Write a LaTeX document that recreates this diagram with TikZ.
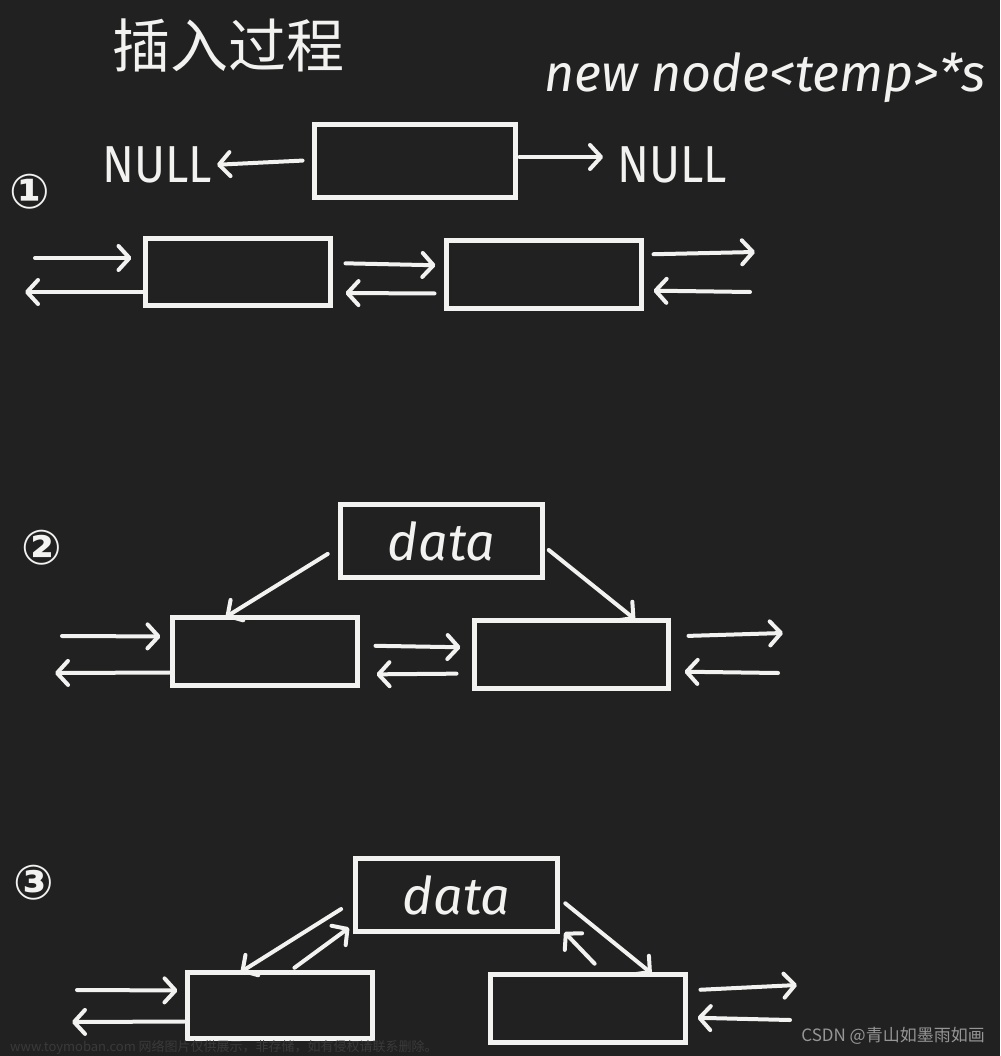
\documentclass[tikz,border=0pt]{standalone}
\usepackage{fontspec}
\usepackage{graphicx}
\usetikzlibrary{arrows.meta}
\setmainfont{Fira Sans}
\newfontfamily\cjk{Noto Sans CJK SC}
\newfontfamily\sym{DejaVu Sans}
\definecolor{bg}{RGB}{33,33,33}
\definecolor{chalk}{RGB}{242,242,240}
\begin{document}
\begin{tikzpicture}[x=1pt,y=-1pt,
  cell/.style={draw=chalk,line width=5pt,minimum width=#1,inner sep=0pt,outer sep=0pt},
  arr/.style={draw=chalk,line width=4pt,line cap=round,-{Straight Barb[length=11pt,width=24pt,round]}},
  hand/.style={text=chalk,inner sep=0pt},
  num/.style={text=chalk,inner sep=0pt,font=\sym\bfseries\fontsize{48}{48}\selectfont}]
\fill[bg] (0,0) rectangle (1000,1056);
\useasboundingbox (0,0) rectangle (1000,1056);

% title and caption
\node[hand,font=\cjk\fontsize{58}{58}\selectfont] (title) at (228,45) {插入过程};
\node[hand,font=\itshape\fontsize{52}{52}\selectfont] (newnode) at (765,78) {new node<temp>*s};

% step 1 : new node
\node[cell=201pt,minimum height=73pt] (top) at (415,161) {};
\node[hand,font=\fontsize{52}{52}\selectfont] (nullL) at (157,165) {\scalebox{0.9}[1]{NULL}};
\node[hand,font=\fontsize{52}{52}\selectfont] (nullR) at (672,165) {\scalebox{0.9}[1]{NULL}};
\draw[arr,shorten <=12pt,shorten >=5pt] ([yshift=1pt]top.west) -- (nullL.east);
\draw[arr,shorten <=4pt,shorten >=14pt] ([yshift=4pt]top.east) -- ([yshift=8pt]nullR.west);
\node[num] (n1) at (30,192) {①};

\node[cell=185pt,minimum height=67pt] (A) at (238,272) {};
\node[cell=195pt,minimum height=68pt] (B) at (544,274.5) {};
\coordinate (a1in) at (35,258);
\coordinate (a1out) at (25,292);
\coordinate (b1out) at (755,252);
\coordinate (b1in) at (750,292);
\draw[arr,shorten >=14pt] (a1in) -- ([yshift=14pt]A.west);
\draw[arr,shorten <=3pt] ([yshift=-20pt]A.west) -- (a1out);
\draw[arr,shorten <=15pt,shorten >=11pt] ([yshift=9pt]A.east) -- ([yshift=9pt]B.west);
\draw[arr,shorten <=12pt,shorten >=15pt] ([yshift=-19pt]B.west) -- ([yshift=-21pt]A.east);
\draw[arr,shorten <=12pt] ([yshift=20pt]B.east) -- (b1out);
\draw[arr,shorten >=12pt] (b1in) -- ([yshift=-16pt]B.east);

% step 2
\node[num] (n2) at (42,548) {②};
\node[cell=202pt,minimum height=73pt,hand,font=\itshape\fontsize{52}{52}\selectfont] (d2) at (441.5,541) {data};
\node[cell=185pt,minimum height=68pt] (C) at (265,651.5) {};
\node[cell=194pt,minimum height=68pt] (D) at (571.5,654.5) {};
\coordinate (c2in) at (62,636);
\coordinate (c2out) at (55,673);
\coordinate (d2out) at (783,633);
\coordinate (d2in) at (778,673);
\draw[arr,shorten >=12pt] (c2in) -- ([yshift=15pt]C.west);
\draw[arr,shorten <=3pt] ([yshift=-21pt]C.west) -- (c2out);
\draw[arr,shorten <=18pt,shorten >=14pt] ([yshift=6pt]C.east) -- ([yshift=7pt]D.west);
\draw[arr,shorten <=18pt,shorten >=19pt] ([yshift=-19pt]D.west) -- ([yshift=-23pt]C.east);
\draw[arr,shorten <=20pt] ([yshift=18pt]D.east) -- (d2out);
\draw[arr,shorten >=16pt] (d2in) -- ([yshift=-17pt]D.east);
\draw[arr,shorten <=15pt,shorten >=1pt] ([yshift=-5pt]d2.west) -- ([xshift=-40pt]C.north);
\draw[arr,shorten <=8pt,shorten >=2pt] ([yshift=-4pt]d2.east) -- ([xshift=65pt]D.north);

% step 3
\node[num] (n3) at (34,883) {③};
\node[cell=202pt,minimum height=73pt,hand,font=\itshape\fontsize{52}{52}\selectfont] (d3) at (456.5,895) {data};
\node[cell=185pt,minimum height=66pt] (E) at (280,1005.5) {};
\node[cell=195pt,minimum height=68pt] (F) at (588,1008.5) {};
\coordinate (e3in) at (77,990);
\coordinate (e3out) at (72,1022);
\coordinate (f3out) at (797,985);
\coordinate (f3in) at (790,1020);
\draw[arr,shorten >=10pt] (e3in) -- ([yshift=15pt]E.west);
\draw[arr,shorten <=3pt] ([yshift=-16pt]E.west) -- (e3out);
\draw[arr,shorten <=15pt] ([yshift=18pt]F.east) -- (f3out);
\draw[arr,shorten >=12pt] (f3in) -- ([yshift=-9pt]F.east);
\draw[arr,shorten <=17pt,shorten >=1pt] ([yshift=-5pt]d3.west) -- ([xshift=-40pt]E.north);
\draw[arr,shorten <=8pt,shorten >=8pt] ([xshift=8pt]E.north) -- ([yshift=-28pt]d3.west);
\draw[arr,shorten <=10pt,shorten >=2pt] ([yshift=-2pt]d3.east) -- ([xshift=65pt]F.north);
\draw[arr,shorten <=15pt,shorten >=10pt] ([xshift=17pt]F.north) -- ([yshift=-30pt]d3.east);

% watermarks
\node[anchor=east,inner sep=0pt,text={rgb,255:red,150;green,150;blue,150},font=\cjk\fontsize{17}{17}\selectfont] (csdn) at (985,1036) {CSDN @青山如墨雨如画};
\node[anchor=west,inner sep=0pt,text={rgb,255:red,58;green,58;blue,58},font=\cjk\fontsize{13}{13}\selectfont] (wm) at (10,1047) {www.toymoban.com 网络图片仅供展示，非存储，如有侵权请联系删除。};
\end{tikzpicture}
\end{document}
